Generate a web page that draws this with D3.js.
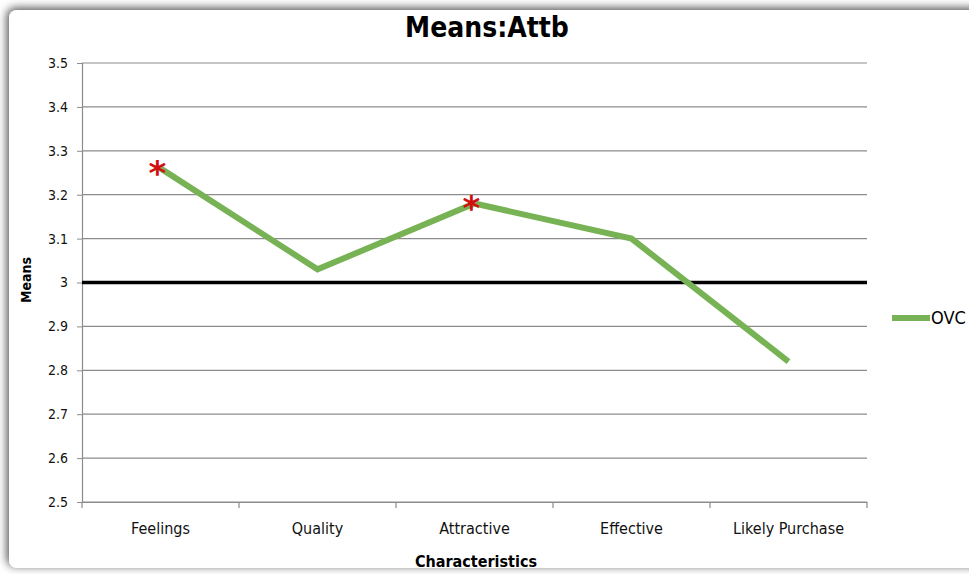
<!DOCTYPE html>
<html><head><meta charset="utf-8">
<script src="https://cdn.jsdelivr.net/npm/d3@7"></script>
<style>body{margin:0;background:#fff;} svg{display:block;}</style>
</head><body>
<script>
const categories = ["Feelings","Quality","Attractive","Effective","Likely Purchase"];
const ovcValues = [3.26, 3.03, 3.18, 3.10, 2.82];
const significant = [true, false, true, false, false];
const yTicks = [2.5,2.6,2.7,2.8,2.9,3,3.1,3.2,3.3,3.4,3.5];
const referenceValue = 3;

const W = 969, H = 574;
const font = "'DejaVu Sans Condensed','Liberation Sans Narrow',sans-serif";
const svg = d3.select("body").append("svg").attr("width", W).attr("height", H);

const defs = svg.append("defs");
const f = defs.append("filter").attr("id","sh").attr("x","-5%").attr("y","-5%").attr("width","110%").attr("height","110%");
f.append("feGaussianBlur").attr("in","SourceAlpha").attr("stdDeviation",5).attr("result","b");
f.append("feOffset").attr("in","b").attr("dx",-2).attr("dy",-2).attr("result","o");
f.append("feComponentTransfer").attr("in","o").attr("result","o2").append("feFuncA").attr("type","linear").attr("slope",0.7);
const m = f.append("feMerge"); m.append("feMergeNode").attr("in","o2"); m.append("feMergeNode").attr("in","SourceGraphic");

svg.append("rect").attr("x",9).attr("y",10).attr("width",W+20).attr("height",H-16).attr("rx",8)
  .attr("fill","#fff").attr("filter","url(#sh)");

const x = d3.scaleBand().domain(categories).range([82, 867]);
const y = d3.scaleLinear().domain([2.5, 3.5]).range([502, 63]);

// gridlines
svg.append("g").selectAll("line").data(yTicks).join("line")
  .attr("x1",82).attr("x2",867).attr("y1",d=>y(d)).attr("y2",d=>y(d))
  .attr("stroke","#8c8c8c").attr("stroke-width",1.2);

// y axis
const ya = svg.append("g").attr("transform","translate(82,0)")
  .call(d3.axisLeft(y).tickValues(yTicks).tickSize(5).tickPadding(9).tickFormat(d3.format("")));
ya.select(".domain").attr("stroke","#8c8c8c").attr("stroke-width",1.2);
ya.selectAll(".tick line").attr("stroke","#8c8c8c");
ya.selectAll("text").attr("font-family",font).attr("font-size",14).attr("fill","#111");

// x axis
const xa = svg.append("g").attr("transform","translate(0,502)")
  .call(d3.axisBottom(x).tickSize(0).tickPadding(21));
xa.select(".domain").attr("stroke","#8c8c8c").attr("stroke-width",1.2);
xa.selectAll("text").attr("font-family",font).attr("font-size",16).attr("fill","#111");
svg.append("g").selectAll("line").data(d3.range(categories.length+1)).join("line")
  .attr("x1",i=>82+i*x.step()).attr("x2",i=>82+i*x.step()).attr("y1",502).attr("y2",508)
  .attr("stroke","#8c8c8c").attr("stroke-width",1.2);

// reference line
svg.append("line").attr("x1",82).attr("x2",867).attr("y1",y(referenceValue)).attr("y2",y(referenceValue))
  .attr("stroke","#000").attr("stroke-width",3.5);

// series line
const line = d3.line().x((d,i)=>x(categories[i])+x.bandwidth()/2).y(d=>y(d));
svg.append("path").datum(ovcValues).attr("d",line).attr("fill","none")
  .attr("stroke","#77b255").attr("stroke-width",6).attr("stroke-linejoin","miter");

// asterisks
svg.append("g").selectAll("text").data(ovcValues.map((v,i)=>({v,i})).filter(d=>significant[d.i])).join("text")
  .attr("x",d=>x(categories[d.i])+x.bandwidth()/2-3).attr("y",d=>y(d.v)+17)
  .attr("text-anchor","middle").attr("font-family","DejaVu Sans, sans-serif").attr("font-size",34)
  .attr("font-weight","bold").attr("fill","#d01010").text("*");

// title
svg.append("text").attr("x",487).attr("y",37).attr("text-anchor","middle")
  .attr("font-family",font).attr("font-weight","bold").attr("font-size",28).attr("fill","#000").text("Means:Attb");

// axis titles
svg.append("text").attr("transform","translate(31,280) rotate(-90)").attr("text-anchor","middle")
  .attr("font-family",font).attr("font-weight","bold").attr("font-size",14).text("Means");
svg.append("text").attr("x",476).attr("y",567).attr("text-anchor","middle")
  .attr("font-family",font).attr("font-weight","bold").attr("font-size",16).text("Characteristics");

// legend
svg.append("line").attr("x1",892).attr("x2",930).attr("y1",318).attr("y2",318)
  .attr("stroke","#77b255").attr("stroke-width",6);
svg.append("text").attr("x",931).attr("y",324).attr("font-family",font).attr("font-size",18).text("OVC");
</script>
</body></html>
